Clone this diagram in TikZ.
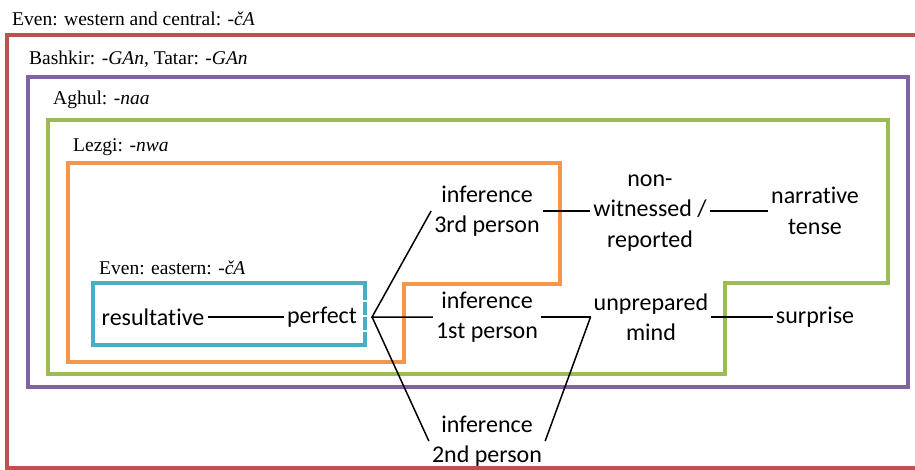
\documentclass[tikz,border=0pt]{standalone}
\usepackage{fontspec}
\setmainfont{Liberation Serif}
\setsansfont[Ligatures=NoCommon]{Carlito}
\usetikzlibrary{calc}
\definecolor{evenwcolor}{RGB}{192, 80, 77}
\definecolor{turkiccolor}{RGB}{128, 100, 162}
\definecolor{aghulcolor}{RGB}{155, 187, 89}
\definecolor{lezgicolor}{RGB}{247, 150, 70}
\definecolor{evenecolor}{RGB}{75, 172, 198}

\begin{document}
\begin{tikzpicture}[
    x=1pt, y=-1pt,
    region/.style={line width=4pt, line join=miter},
    term/.style={align=center, inner sep=3pt, font=\sffamily\fontsize{24}{30.5}\selectfont},
    lang/.style={anchor=base west, inner sep=0pt, font=\fontsize{19.5}{22}\selectfont},
    link/.style={line width=1.5pt}
]
\clip (0,0) rectangle (915,470);

% ========== REGIONS ==========
\draw[region, evenwcolor] (7,35) rectangle (940,468);
\draw[region, turkiccolor] (28,77) rectangle (908,387);
\draw[region, aghulcolor] (48,120) -- (888,120) -- (888,283) -- (725,283) -- (725,374) -- (48,374) -- cycle;
\draw[region, lezgicolor] (68,163) -- (560,163) -- (560,284) -- (404,284) -- (404,362) -- (68,362) -- cycle;
\draw[region, evenecolor] (365,283) -- (93,283) -- (93,345) -- (365,345);
\draw[region, evenecolor, dash pattern=on 18.75pt off 2.5pt on 12.5pt off 2.5pt on 12.5pt off 2.5pt on 20pt] (365,281) -- (365,347);

% ========== LANGUAGE LABELS ==========
\node[lang] (evenw) at (12,26) {Even: western and central: -\textit{čA}};
\node[lang] (turkic) at (29,65) {Bashkir: -\textit{GAn}, Tatar: -\textit{GAn}};
\node[lang] (aghul) at (53,105) {Aghul: -\textit{naa}};
\node[lang] (lezgi) at (73,152) {Lezgi: -\textit{nwa}};
\node[lang] (evene) at (99,275) {Even: eastern: -\textit{čA}};

% ========== MEANINGS ==========
\node[term] (resultative) at (153,317) {resultative};
\node[term] (perfect) at (322,317) {perfect};

\node[term] (inf3) at (487,211) {inference\\3rd person};
\node[term] (inf1) at (487,317) {inference\\1st person};
\node[term] (inf2) at (487,441) {inference\\2nd person};

\node[term] (nonwit) at (650,213) {non-\\witnessed /\\reported};
\node[term] (unprep) at (651,317) {unprepared\\mind};

\node[term] (narrative) at (815,211) {narrative\\tense};
\node[term] (surprise) at (815,317) {surprise};

% ========== LINKS ==========
\coordinate (fan) at ($(perfect.east)+(12,0)$);
\draw[link] (resultative) -- (perfect);
\draw[link] (inf3.west) -- (fan) -- (inf1.west);
\draw[link] (fan) -- (inf2.west);

\draw[link] (inf3.east) -- (inf3.east -| nonwit.west);
\draw[link] (narrative.west -| nonwit.east) -- (narrative.west);
\draw[link] (inf1) -- (unprep);
\draw[link] (inf2.east) -- (unprep.west);
\draw[link] (unprep) -- (surprise);

\end{tikzpicture}
\end{document}
